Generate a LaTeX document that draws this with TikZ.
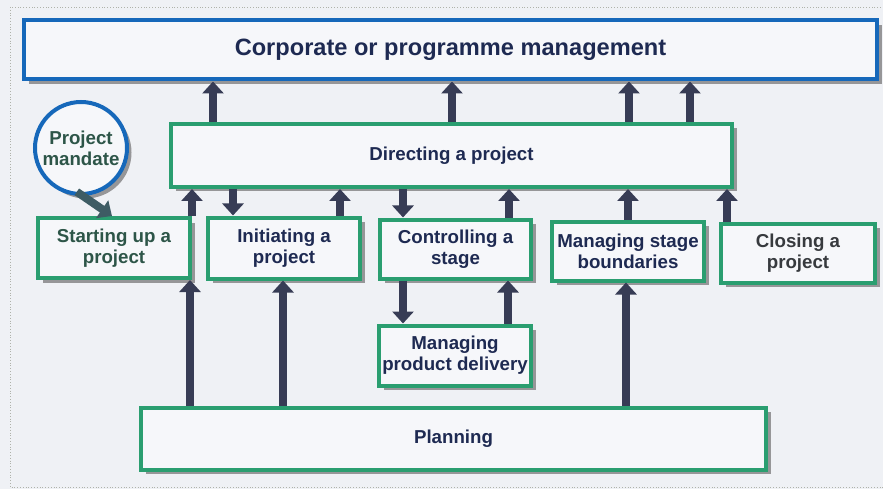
\documentclass[tikz,border=0pt]{standalone}
\usepackage{fontspec}
\setmainfont{Liberation Sans}
\usetikzlibrary{arrows.meta,shadows}
\definecolor{bgc}{RGB}{239,241,245}
\definecolor{boxfill}{RGB}{246,247,250}
\definecolor{grn}{RGB}{42,158,112}
\definecolor{blu}{RGB}{22,104,186}
\definecolor{arrc}{RGB}{55,60,85}
\definecolor{marrc}{RGB}{62,92,100}
\definecolor{navy}{RGB}{30,42,82}
\definecolor{dgreen}{RGB}{45,85,72}
\definecolor{dgrey}{RGB}{55,58,62}
\definecolor{shad}{RGB}{150,150,152}
\definecolor{framec}{RGB}{175,178,170}
\tikzset{
  box/.style={draw=grn, line width=4pt, fill=boxfill, inner sep=0pt, align=center,
    font=\fontsize{18.7}{21}\selectfont\bfseries, text=navy,
    drop shadow={shadow xshift=4.5pt, shadow yshift=-4.5pt, fill=shad, opacity=1}},
  bigbox/.style={box, draw=blu, font=\fontsize{23.6}{26}\selectfont\bfseries},
  mcircle/.style={box, circle, draw=blu, text=dgreen},
  arr/.style={draw=arrc, line width=8pt, -{Triangle[width=21pt,length=12pt]}},
  marr/.style={arr, draw=marrc, fill=marrc}
}
\begin{document}
\begin{tikzpicture}[x=1pt,y=-1pt]
\useasboundingbox (0,0) rectangle (883,489);
\fill[bgc] (0,0) rectangle (883,489);
\draw[framec, line width=0.8pt, dotted] (10,7) rectangle (895,487);

% nodes
\node[bigbox, minimum width=853pt, minimum height=59pt] (corp) at (450.5,50) {Corporate or programme management};
\node[box, minimum width=561pt, minimum height=63pt] (direct) at (451.5,155.5) {Directing a project};
\node[box, minimum width=152pt, minimum height=60pt, text=dgreen] (start) at (114,248) {Starting up a\\project};
\node[box, minimum width=152pt, minimum height=61pt] (init) at (284,248) {Initiating a\\project};
\node[box, minimum width=151pt, minimum height=59pt] (ctrl) at (455.5,249) {Controlling a\\stage};
\node[box, minimum width=152pt, minimum height=59pt] (msb) at (628,251) {Managing stage\\boundaries};
\node[box, minimum width=154pt, minimum height=59pt, text=dgrey] (close) at (798,253) {Closing a\\project};
\node[box, minimum width=152pt, minimum height=60pt] (mpd) at (455,355.5) {Managing\\product delivery};
\node[box, minimum width=625pt, minimum height=62pt] (plan) at (453.5,438.5) {Planning};
\node[mcircle, minimum size=92pt] (mandate) at (81,148) {Project\\mandate};

% Directing -> Corporate
\draw[arr] (213,0 |- direct.north) -- (213,0 |- corp.south);
\draw[arr] (452,0 |- direct.north) -- (452,0 |- corp.south);
\draw[arr] (629,0 |- direct.north) -- (629,0 |- corp.south);
\draw[arr] (690,0 |- direct.north) -- (690,0 |- corp.south);

% row <-> Directing
\draw[arr] (192,0 |- start.north) -- (192,0 |- direct.south);
\draw[arr] (233,0 |- direct.south) -- (233,0 |- init.north);
\draw[arr] (340,0 |- init.north) -- (340,0 |- direct.south);
\draw[arr] (403,0 |- direct.south) -- (403,0 |- ctrl.north);
\draw[arr] (509,0 |- ctrl.north) -- (509,0 |- direct.south);
\draw[arr] (628,0 |- msb.north) -- (628,0 |- direct.south);
\draw[arr] (727,0 |- close.north) -- (727,0 |- direct.south);

% Controlling <-> MPD
\draw[arr] (403,0 |- ctrl.south) -- (403,0 |- mpd.north);
\draw[arr] (508,0 |- mpd.north) -- (508,0 |- ctrl.south);

% Planning -> row
\draw[arr] (190,0 |- plan.north) -- (190,0 |- start.south);
\draw[arr] (283,0 |- plan.north) -- (283,0 |- init.south);
\draw[arr] (626,0 |- plan.north) -- (626,0 |- msb.south);

% mandate -> starting
\draw[marr] ([yshift=4pt]mandate.-95) -- ([xshift=-2pt]start.north);
\end{tikzpicture}
\end{document}
